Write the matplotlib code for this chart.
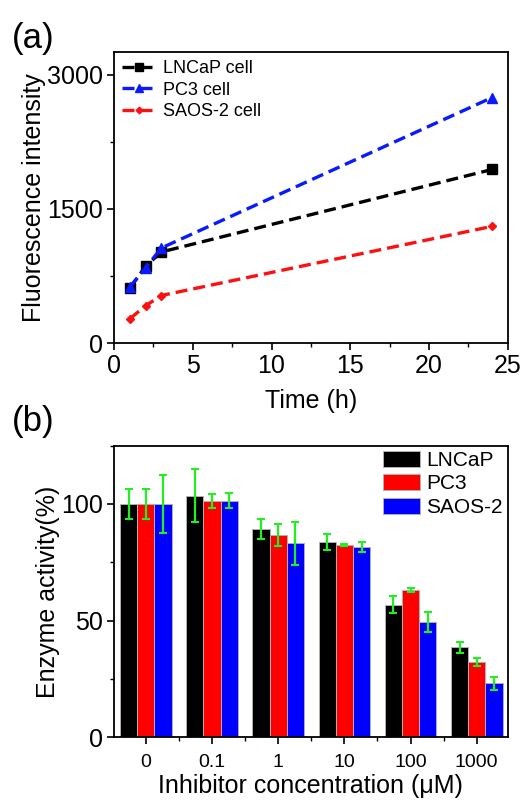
import matplotlib
matplotlib.use("Agg")
import matplotlib.pyplot as plt
from matplotlib.ticker import MultipleLocator, FixedLocator
import numpy as np

plt.rcParams.update({"font.family": ["Liberation Sans", "DejaVu Sans"],
                     "axes.linewidth": 1.3,
                     "xtick.direction": "out", "ytick.direction": "out"})

# ---- panel (a) data
time_h = [1, 2, 3, 24]
lncap_fl = [616, 857, 1019, 1940]
pc3_fl = [627, 840, 1063, 2743]
saos_fl = [272, 418, 533, 1305]

# ---- panel (b) data
conc_labels = ["0", "0.1", "1", "10", "100", "1000"]
lncap_act = [100, 103.6, 89.2, 83.8, 56.8, 38.5]
lncap_err = [6.3, 11.3, 4.3, 3.5, 3.6, 2.5]
pc3_act = [100, 101.4, 86.8, 82.4, 63.1, 32.3]
pc3_err = [6.3, 3.0, 4.8, 0.5, 1.0, 1.6]
saos_act = [100, 101.4, 83.1, 81.6, 49.4, 23.1]
saos_err = [12.3, 3.3, 9.3, 2.1, 4.3, 2.9]

fig = plt.figure(figsize=(5.23, 8.02), dpi=100)
axA = fig.add_axes([0.218, 0.572, 0.753, 0.363])
axB = fig.add_axes([0.218, 0.0807, 0.753, 0.3636])

ls = (0, (3.6, 1.8))
axA.plot(time_h, lncap_fl, color="black", ls=ls, lw=2.4, marker="s", ms=7, label="LNCaP cell")
axA.plot(time_h, pc3_fl, color="#0a1aff", ls=ls, lw=2.4, marker="^", ms=7, label="PC3 cell")
axA.plot(time_h, saos_fl, color="#ff1010", ls=ls, lw=2.4, marker="D", ms=4.5, label="SAOS-2 cell")
axA.set_xlim(0, 25); axA.set_ylim(0, 3250)
axA.xaxis.set_major_locator(MultipleLocator(5)); axA.xaxis.set_minor_locator(MultipleLocator(2.5))
axA.yaxis.set_major_locator(MultipleLocator(1500)); axA.yaxis.set_minor_locator(MultipleLocator(750))
axA.tick_params(which="major", length=5, width=1.2, labelsize=18, pad=3)
axA.tick_params(which="minor", length=3, width=1.0)
axA.set_xlabel("Time (h)", fontsize=18, labelpad=8)
axA.set_ylabel("Fluorescence intensity", fontsize=18, labelpad=1)
axA.legend(loc="upper left", frameon=False, fontsize=13, handlelength=1.9, labelspacing=0.25,
           handletextpad=0.35, borderaxespad=0.15, borderpad=0.3, markerscale=0.75)
fig.text(0.022, 0.94, "(a)", fontsize=25)

x = np.arange(len(conc_labels))
w = 0.26
ekw = dict(ecolor="#22ee22", elinewidth=1.6, capsize=3, capthick=1.5)
axB.bar(x - w, lncap_act, w, color="black", edgecolor="#b0b0b0", lw=0.7, yerr=lncap_err, error_kw=ekw, label="LNCaP")
axB.bar(x, pc3_act, w, color="#ff0000", edgecolor="#b0b0b0", lw=0.7, yerr=pc3_err, error_kw=ekw, label="PC3")
axB.bar(x + w, saos_act, w, color="#0000ff", edgecolor="#b0b0b0", lw=0.7, yerr=saos_err, error_kw=ekw, label="SAOS-2")
axB.set_xlim(-0.48, 5.47); axB.set_ylim(0, 125)
axB.set_xticks(x); axB.set_xticklabels(conc_labels)
axB.xaxis.set_minor_locator(FixedLocator(x[:-1] + 0.5))
axB.yaxis.set_major_locator(MultipleLocator(50)); axB.yaxis.set_minor_locator(MultipleLocator(25))
axB.tick_params(which="major", length=5, width=1.2)
axB.tick_params(which="minor", length=3, width=1.0)
axB.tick_params(axis="x", labelsize=14, pad=7)
axB.tick_params(axis="y", labelsize=18, pad=3)
axB.set_xlabel("Inhibitor concentration (\u03bcM)", fontsize=18, labelpad=2)
axB.set_ylabel("Enzyme activity(%)", fontsize=18, labelpad=1)
axB.legend(loc="upper right", frameon=False, fontsize=15, handlelength=1.75, handleheight=0.8,
           labelspacing=0.2, handletextpad=0.3, borderaxespad=0.05, borderpad=0.2)
fig.text(0.022, 0.462, "(b)", fontsize=25)

fig.savefig("out.png", dpi=100)
